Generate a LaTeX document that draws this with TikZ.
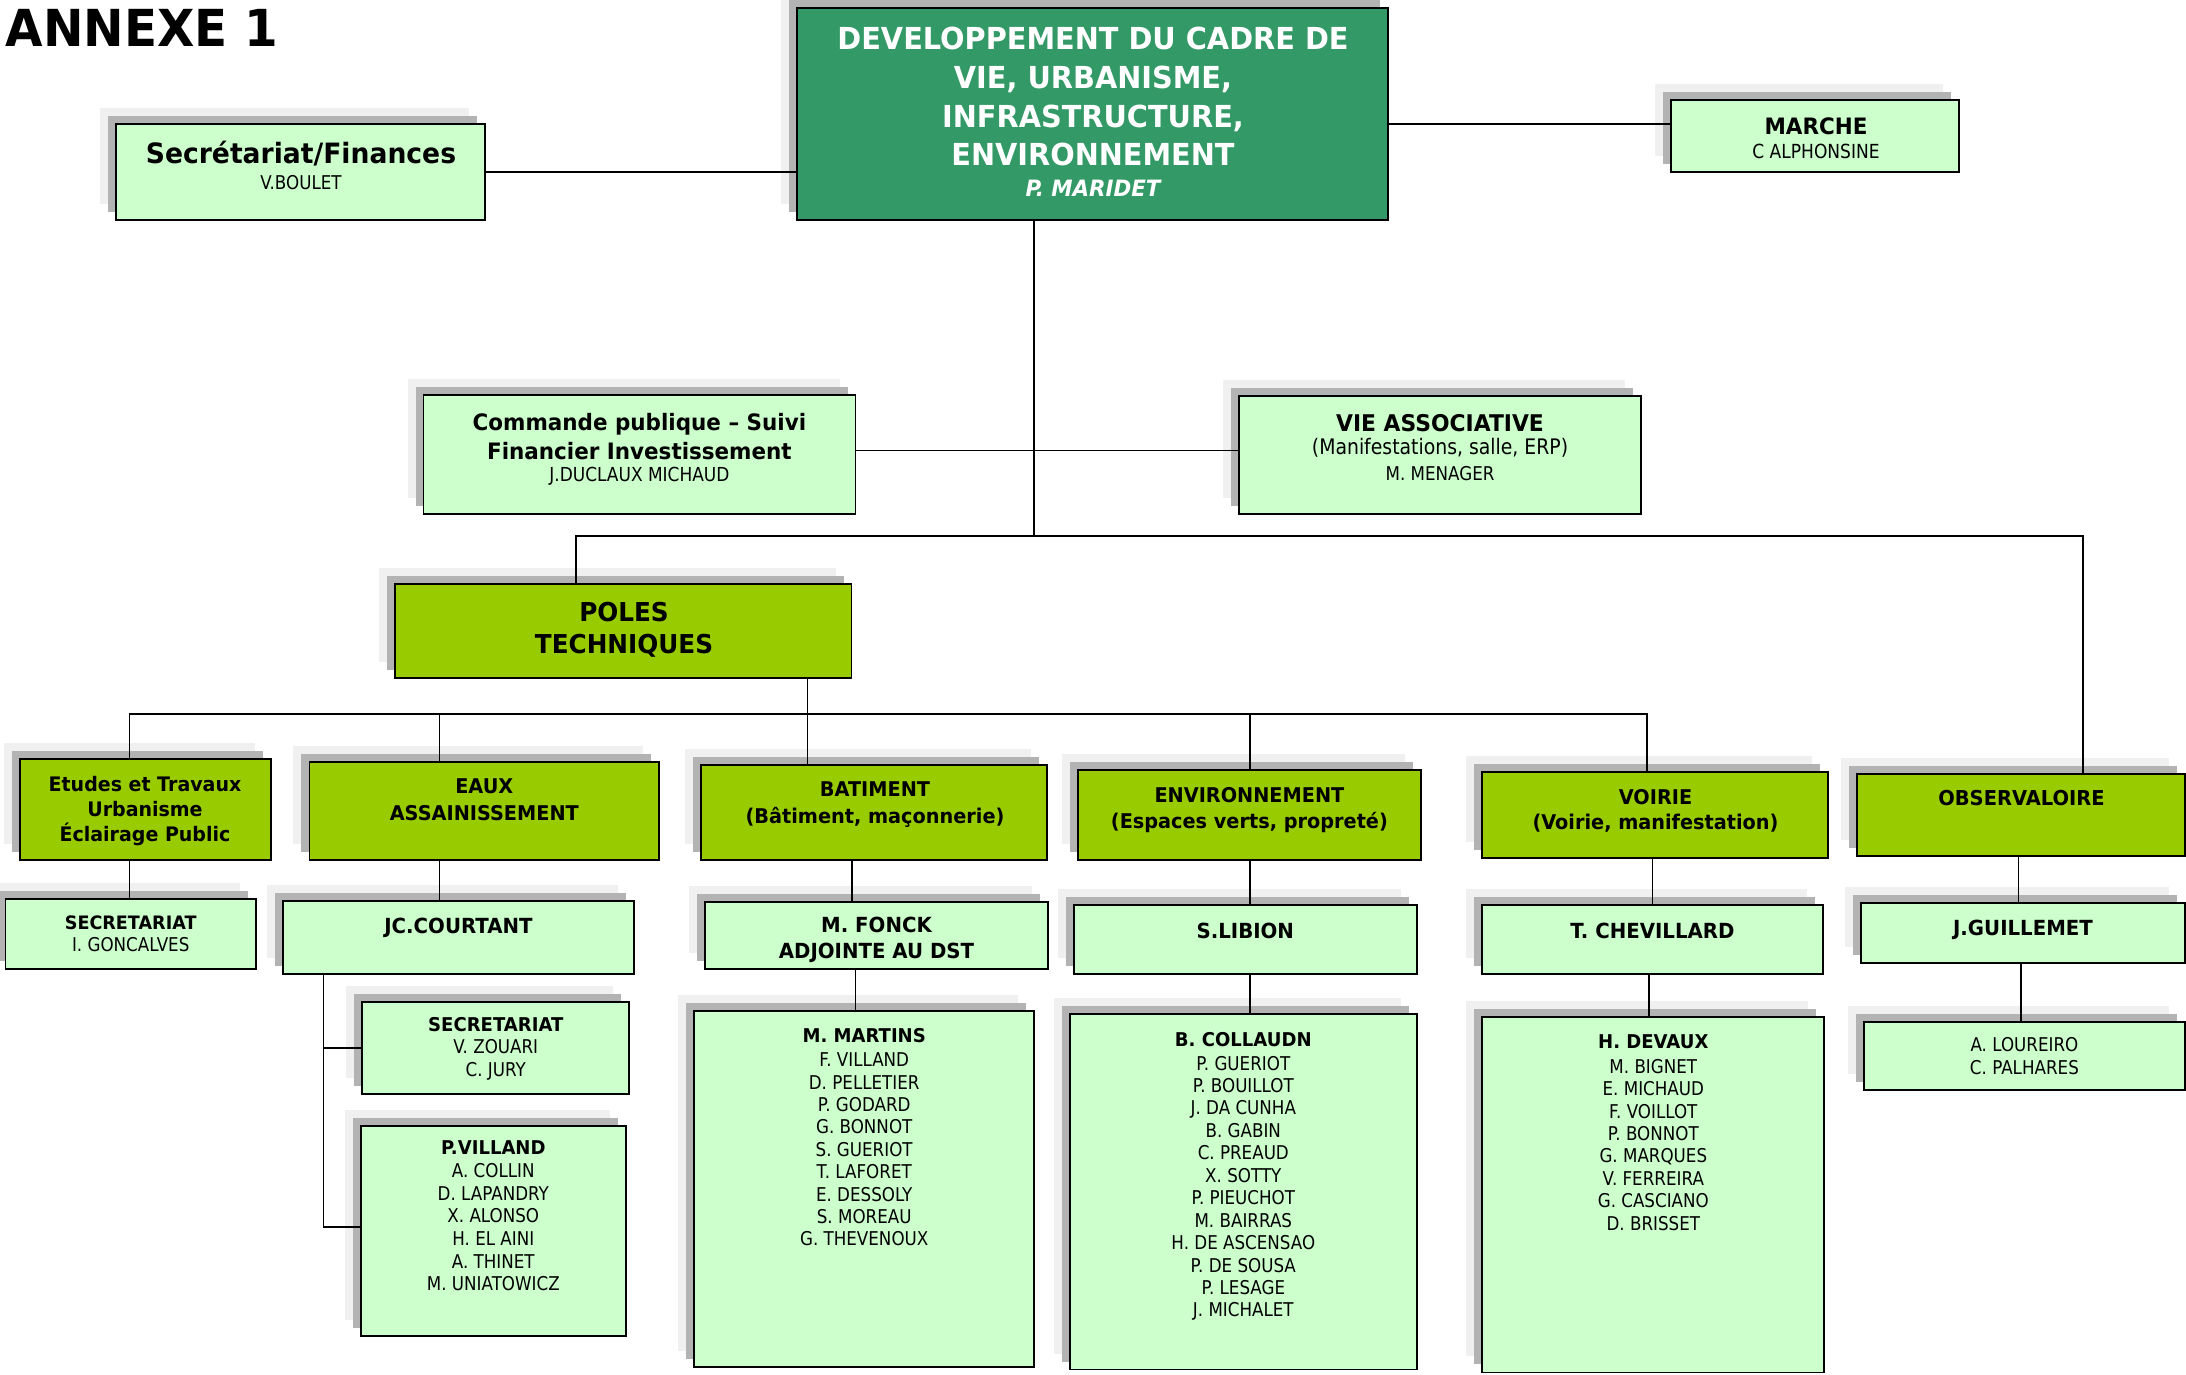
\documentclass[tikz,border=0pt]{standalone}
\usepackage{fontspec}
\newfontfamily\rgt{DejaVu Sans}[FakeStretch=0.88]
\newfontfamily\bft{DejaVu Sans}[FakeStretch=0.95]
\newcommand\B{\bft\bfseries}
\definecolor{dkgreen}{HTML}{339966}
\definecolor{pgreen}{HTML}{99CC00}
\definecolor{lgreen}{HTML}{CCFFCC}
\definecolor{shd}{HTML}{B3B3B3}
\definecolor{shl}{HTML}{F0F0F0}
\pgfdeclarelayer{shadowlayer}
\pgfdeclarelayer{linelayer}
\pgfsetlayers{shadowlayer,linelayer,main}
\tikzset{
  boxst/.style={draw=black, line width=1.8pt, inner sep=0pt, outer sep=0pt, anchor=north west},
  tx/.style={inner sep=0pt, outer sep=0pt, align=center},
  conn/.style={draw=black, line width=1.4pt},
}
% box: name, x1, y1, x2, y2, fill
\newcommand\bx[6]{\node[boxst, fill=#6, minimum width=#4-#2, minimum height=#5-#3] (#1) at (#2,#3) {};}
% text: [opts], name, x, first baseline y, font, size, skip, text
\newcommand\tl[8][]{\node[tx, #1, anchor=north, yshift=#6pt, font={#5\fontsize{#6}{#7}\selectfont}] (#2) at (#3,#4) {\rule{0pt}{#6pt}#8};}
\begin{document}
\begin{tikzpicture}[x=1pt, y=-1pt]
\useasboundingbox (0,0) rectangle (2186,1375);

% ---------- boxes ----------
\bx{main}{797}{8}{1388}{220}{dkgreen}
\bx{secf}{116}{124}{485}{220}{lgreen}
\bx{marche}{1671}{100}{1959}{172}{lgreen}
\bx{cmd}{423.5}{395}{855.5}{514}{lgreen}
\bx{vie}{1239}{396}{1641}{514}{lgreen}
\bx{poles}{395}{584}{851.5}{677.7}{pgreen}
\bx{etudes}{19.6}{758.7}{271}{860}{pgreen}
\bx{eaux}{309.4}{761.7}{659}{860}{pgreen}
\bx{bat}{701}{765}{1047.3}{860}{pgreen}
\bx{env}{1077.7}{769.6}{1421}{860.2}{pgreen}
\bx{voirie}{1482.3}{772}{1828.3}{858.2}{pgreen}
\bx{obs}{1857}{774}{2185}{856}{pgreen}
\bx{secgon}{5.4}{899.3}{256}{969.3}{lgreen}
\bx{jc}{283.3}{901.3}{633.7}{974}{lgreen}
\bx{fonck}{705}{901.7}{1047.7}{969.3}{lgreen}
\bx{libion}{1074}{905.2}{1416.7}{973.6}{lgreen}
\bx{chev}{1482.3}{905.2}{1822.7}{973.6}{lgreen}
\bx{jg}{1860.7}{903.3}{2185}{963.3}{lgreen}
\bx{seczou}{362.3}{1002}{629.3}{1094}{lgreen}
\bx{villand}{360.7}{1125.7}{625.7}{1336}{lgreen}
\bx{martins}{694}{1010.7}{1034.3}{1366.7}{lgreen}
\bx{collaudn}{1070}{1014}{1416.7}{1369.5}{lgreen}
\bx{devaux}{1482.3}{1017.3}{1824.3}{1372.4}{lgreen}
\bx{loureiro}{1863.7}{1021.7}{2185}{1090}{lgreen}

% ---------- shadows ----------
\begin{pgfonlayer}{shadowlayer}
\foreach \n in {main,secf,marche,cmd,vie,poles,etudes,eaux,bat,env,voirie,obs,secgon,jc,fonck,libion,chev,jg,seczou,villand,martins,collaudn,devaux,loureiro}{
  \fill[shl] ([shift={(-16,-16)}]\n.north west) rectangle ([shift={(-16,-16)}]\n.south east);
  \fill[shd] ([shift={(-8,-8)}]\n.north west) rectangle ([shift={(-8,-8)}]\n.south east);
}
\end{pgfonlayer}

% ---------- connectors ----------
\begin{pgfonlayer}{linelayer}
\coordinate (hub) at (1034,536);
\coordinate (hubb) at (807.3,714);
\coordinate (jcx) at (323.3,0);
\draw[conn] (secf.east) -- (secf.east -| main.west);
\draw[conn] (main.east |- 0,124) -- (marche.west |- 0,124);
\draw[conn] (main.south -| hub) -- (hub);
\draw[conn] (cmd.east |- 0,450.3) -- (vie.west |- 0,450.3);
\draw[conn] (poles.north -| 576,0) |- (hub);
\draw[conn] (hub) -| (obs.north -| 2083,0);
\draw[conn] (poles.south -| hubb) -- (bat.north -| hubb);
\draw[conn] (etudes.north -| 129.6,0) |- (hubb);
\draw[conn] (hubb) -| (voirie.north -| 1647,0);
\draw[conn] (hubb -| 439.7,0) -- (eaux.north -| 439.7,0);
\draw[conn] (hubb -| 1250,0) -- (env.north -| 1250,0);
\draw[conn] (etudes.south -| 129.6,0) -- (secgon.north -| 129.6,0);
\draw[conn] (eaux.south -| 439.7,0) -- (jc.north -| 439.7,0);
\draw[conn] (bat.south -| 852,0) -- (fonck.north -| 852,0);
\draw[conn] (env.south -| 1250,0) -- (libion.north -| 1250,0);
\draw[conn] (voirie.south -| 1652.7,0) -- (chev.north -| 1652.7,0);
\draw[conn] (obs.south -| 2018.7,0) -- (jg.north -| 2018.7,0);
\draw[conn] (fonck.south -| 855.7,0) -- (martins.north -| 855.7,0);
\draw[conn] (libion.south -| 1250,0) -- (collaudn.north -| 1250,0);
\draw[conn] (chev.south -| 1649,0) -- (devaux.north -| 1649,0);
\draw[conn] (jg.south -| 2021,0) -- (loureiro.north -| 2021,0);
\draw[conn] (jc.south -| jcx) |- (seczou.west);
\draw[conn] (jc.south -| jcx) |- (villand.west |- 0,1227);
\end{pgfonlayer}

% ---------- texts ----------
\node[tx, anchor=base west, font={\B\fontsize{51}{51}\selectfont}] (annexe) at (5.7,46.7) {ANNEXE 1};
\tl[text=white]{tmain}{1093}{50}{\B}{30.3}{38.6}{DEVELOPPEMENT DU CADRE DE\\VIE, URBANISME,\\INFRASTRUCTURE,\\ENVIRONNEMENT}
\tl[text=white]{tmaridet}{1093}{196.7}{\B\itshape}{22.5}{22.5}{P. MARIDET}
\tl{tsecf}{301}{163.3}{\B}{28}{28}{Secrétariat/Finances}
\tl{tboulet}{301}{189.3}{\rgt}{19}{19}{V.BOULET}
\tl{tmarche}{1816}{135}{\B}{22.6}{22.6}{MARCHE}
\tl{talph}{1816}{158.3}{\rgt}{19.4}{19.4}{C ALPHONSINE}
\tl{tcmd}{639.4}{430}{\B}{22.6}{29}{Commande publique – Suivi\\Financier Investissement}
\tl{tducl}{639.4}{481.7}{\rgt}{19.3}{19.3}{J.DUCLAUX MICHAUD}
\tl{tvie}{1440}{431.7}{\B}{23}{23}{VIE ASSOCIATIVE}
\tl{tmanif}{1440}{454.5}{\rgt}{21.4}{21.4}{(Manifestations, salle, ERP)}
\tl{tmena}{1440}{480}{\rgt}{19}{19}{M. MENAGER}
\tl{tpoles}{624}{621.3}{\B}{26}{32}{POLES\\TECHNIQUES}
\tl{tetudes}{145}{791}{\B}{20}{25.3}{Etudes et Travaux\\Urbanisme\\Éclairage Public}
\tl{teaux}{484.3}{793.3}{\B}{20.3}{26.7}{EAUX\\ASSAINISSEMENT}
\tl{tbat}{875}{796.7}{\B}{20.3}{26.6}{BATIMENT\\(Bâtiment, maçonnerie)}
\tl{tenv}{1249.4}{802.8}{\B}{20.3}{25.5}{ENVIRONNEMENT\\(Espaces verts, propreté)}
\tl{tvoirie}{1655.5}{804}{\B}{20.3}{25.9}{VOIRIE\\(Voirie, manifestation)}
\tl{tobs}{2021.5}{805.7}{\B}{20.5}{20.5}{OBSERVALOIRE}
\tl{tsecg}{130.7}{929.3}{\B}{18.5}{18.5}{SECRETARIAT}
\tl{tgonc}{130.7}{951}{\rgt}{19}{19}{I. GONCALVES}
\tl{tjc}{458.5}{933.3}{\B}{20.8}{20.8}{JC.COURTANT}
\tl{tfonck}{876.5}{932.7}{\B}{20.8}{25.6}{M. FONCK\\ADJOINTE AU DST}
\tl{tlibion}{1245.3}{938.4}{\B}{20.8}{20.8}{S.LIBION}
\tl{tchev}{1652.5}{938.4}{\B}{20.8}{20.8}{T. CHEVILLARD}
\tl{tjg}{2023}{935}{\B}{20.8}{20.8}{J.GUILLEMET}
\tl{tsecz}{495.8}{1031}{\B}{19}{19}{SECRETARIAT}
\tl{tzou}{495.8}{1053.7}{\rgt}{19}{22.3}{V. ZOUARI\\C. JURY}
\tl{tvill}{493.3}{1154}{\B}{19}{19}{P.VILLAND}
\tl{tvilll}{493.3}{1177.7}{\rgt}{19}{22.6}{A. COLLIN\\D. LAPANDRY\\X. ALONSO\\H. EL AINI\\A. THINET\\M. UNIATOWICZ}
\tl{tmart}{864.2}{1042.7}{\B}{19}{19}{M. MARTINS}
\tl{tmartl}{864.2}{1066.7}{\rgt}{19}{22.4}{F. VILLAND\\D. PELLETIER\\P. GODARD\\G. BONNOT\\S. GUERIOT\\T. LAFORET\\E. DESSOLY\\S. MOREAU\\G. THEVENOUX}
\tl{tcoll}{1243.3}{1046.5}{\B}{19}{19}{B. COLLAUDN}
\tl{tcolll}{1243.3}{1070}{\rgt}{19}{22.45}{P. GUERIOT\\P. BOUILLOT\\J. DA CUNHA\\B. GABIN\\C. PREAUD\\X. SOTTY\\P. PIEUCHOT\\M. BAIRRAS\\H. DE ASCENSAO\\P. DE SOUSA\\P. LESAGE\\J. MICHALET}
\tl{tdev}{1653.3}{1048.9}{\B}{19}{19}{H. DEVAUX}
\tl{tdevl}{1653.3}{1073.2}{\rgt}{19}{22.4}{M. BIGNET\\E. MICHAUD\\F. VOILLOT\\P. BONNOT\\G. MARQUES\\V. FERREIRA\\G. CASCIANO\\D. BRISSET}
\tl{tlour}{2024.4}{1051}{\rgt}{19}{23}{A. LOUREIRO\\C. PALHARES}
\end{tikzpicture}
\end{document}
